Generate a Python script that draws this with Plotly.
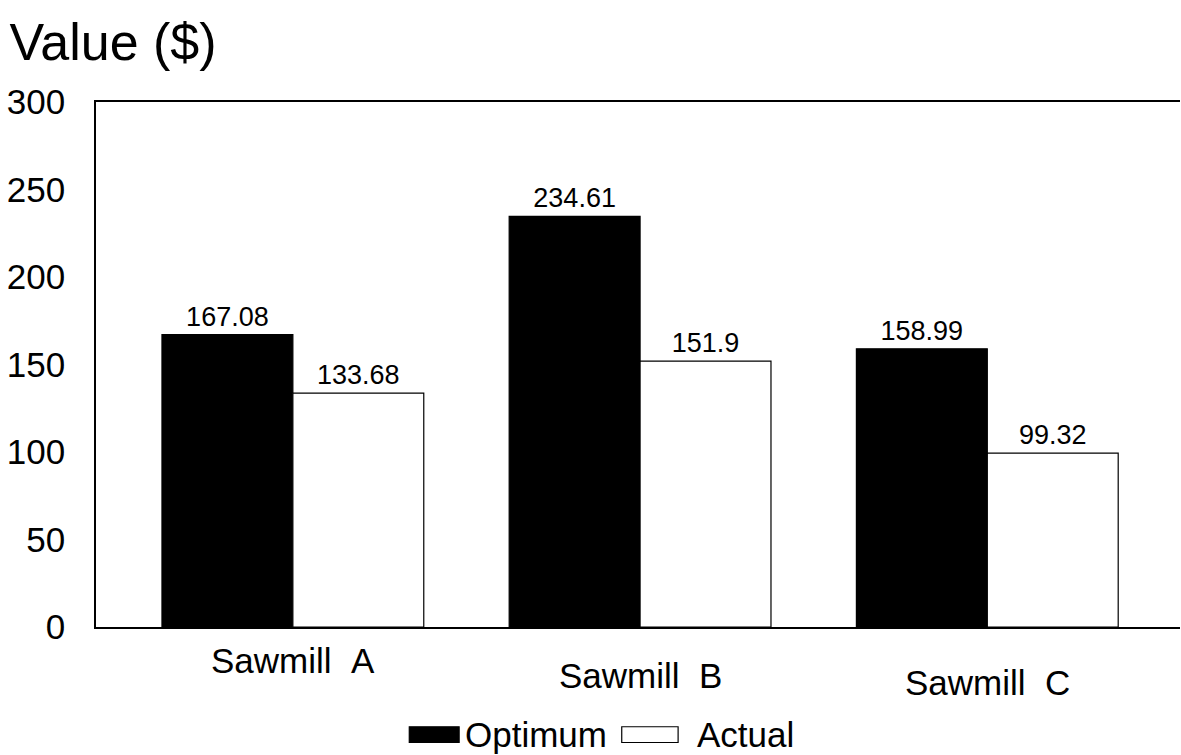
import plotly.graph_objects as go

categories = ["Sawmill A", "Sawmill B", "Sawmill C"]
optimum = [167.08, 234.61, 158.99]
actual = [133.68, 151.9, 99.32]
optimum_labels = ["167.08", "234.61", "158.99"]
actual_labels = ["133.68", "151.9", "99.32"]
y_ticks = [0, 50, 100, 150, 200, 250, 300]
series_names = ["Optimum", "Actual"]
series_fill = ["black", "white"]

FONT = "Liberation Sans, Arial, sans-serif"
xpos = list(range(len(categories)))

fig = go.Figure()
for name, vals, labels, fill in zip(series_names, [optimum, actual],
                                    [optimum_labels, actual_labels], series_fill):
    fig.add_trace(go.Bar(
        x=xpos, y=vals, name=name,
        marker=dict(color=fill, line=dict(color="black", width=1.2)),
        text=labels, textposition="outside", cliponaxis=False,
        textfont=dict(size=27, color="black", family=FONT),
        showlegend=False, hoverinfo="skip",
    ))

# category labels (slightly staggered like the original)
label_y = [-0.064, -0.092, -0.106]
for xi, cat, ly in zip(xpos, categories, label_y):
    fig.add_annotation(x=xi, xref="x", y=ly, yref="paper", text=cat.replace(" ", "&nbsp;&nbsp;"),
                       showarrow=False, xanchor="center", yanchor="middle",
                       font=dict(size=35, family=FONT, color="black"))

# custom legend (large swatches like the original)
leg = [
    dict(x0=0.289, x1=0.335, text_x=0.339, name=series_names[0], fill=series_fill[0]),
    dict(x0=0.485, x1=0.537, text_x=0.553, name=series_names[1], fill=series_fill[1]),
]
for item in leg:
    fig.add_shape(type="rect", xref="paper", yref="paper",
                  x0=item["x0"], x1=item["x1"], y0=-0.22, y1=-0.19,
                  fillcolor=item["fill"], line=dict(color="black", width=1.2))
    fig.add_annotation(x=item["text_x"], xref="paper", y=-0.205, yref="paper",
                       text=item["name"], showarrow=False, xanchor="left", yanchor="middle",
                       font=dict(size=35, family=FONT, color="black"))

fig.update_layout(
    width=1181, height=755,
    paper_bgcolor="white", plot_bgcolor="white",
    barmode="group", bargap=0.246, bargroupgap=0,
    margin=dict(l=96, r=1, t=102, b=128),
    font=dict(family=FONT, color="black"),
    title=dict(text="Value ($)", x=0.008, xanchor="left", y=0.944, yanchor="middle",
               font=dict(size=52, family=FONT, color="black")),
    showlegend=False,
)
fig.update_xaxes(
    range=[-0.567, 2.555],
    tickvals=xpos, ticktext=["", "", ""],
    showline=True, linecolor="black", linewidth=2, mirror=True,
    ticks="", showgrid=False, zeroline=False,
)
fig.update_yaxes(
    range=[0, 300], tickvals=y_ticks,
    tickfont=dict(size=35, family=FONT, color="black"),
    showline=True, linecolor="black", linewidth=1.5,
    ticks="", showgrid=False, zeroline=False, ticklabelstandoff=22,
)

fig.write_html("out.html", config={"displayModeBar": False},
               post_script="document.body.style.margin='0px';")
